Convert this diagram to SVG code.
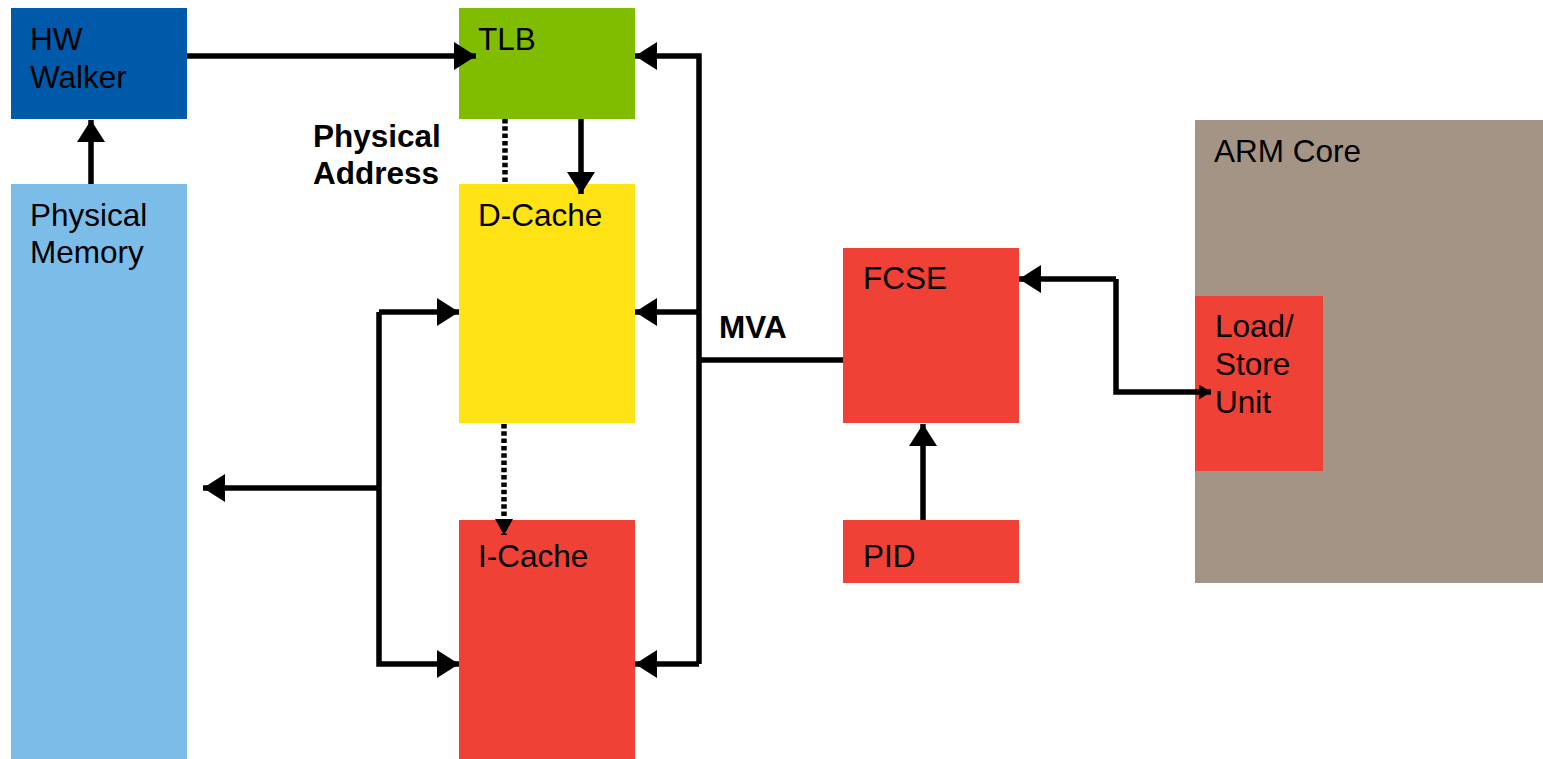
<svg xmlns="http://www.w3.org/2000/svg" width="1543" height="759" viewBox="0 0 1543 759">
<style>
.t{font-family:"Liberation Sans",Arial,sans-serif;font-size:31.5px;fill:#000}
.b{font-weight:bold}
.ln{fill:none;stroke:#000;stroke-width:5.5}
.dot{fill:none;stroke:#000;stroke-width:5.5;stroke-dasharray:4.5 2.8}
</style>
<defs>
<marker id="ah" markerUnits="userSpaceOnUse" markerWidth="24" markerHeight="30" refX="22" refY="14" orient="auto">
<path d="M0,0 L22,14 L0,28 Z" fill="#000"/>
</marker>
<marker id="ad" markerUnits="userSpaceOnUse" markerWidth="18" markerHeight="20" refX="16" refY="9" orient="auto">
<path d="M0,0 L16,9 L0,18 Z" fill="#000"/>
</marker>
<marker id="as" markerUnits="userSpaceOnUse" markerWidth="14" markerHeight="16" refX="12" refY="7.5" orient="auto">
<path d="M0,0 L12,7.5 L0,15 Z" fill="#000"/>
</marker>
</defs>
<rect width="1543" height="759" fill="#fff"/>
<g id="arm-core"><rect x="1195" y="120" width="348" height="463" fill="#a39485"/><text class="t" x="1214" y="162">ARM Core</text></g>
<g id="hw-walker"><rect x="11" y="8" width="176" height="111" fill="#005aa9"/><text class="t" x="30" y="50">HW</text><text class="t" x="30" y="88">Walker</text></g>
<g id="tlb"><rect x="459" y="8" width="176" height="111" fill="#80bc00"/><text class="t" x="478" y="50">TLB</text></g>
<g id="physical-memory"><rect x="11" y="184" width="176" height="575" fill="#7bbde8"/><text class="t" x="30" y="226">Physical</text><text class="t" x="30" y="263">Memory</text></g>
<g id="d-cache"><rect x="459" y="184" width="176" height="239" fill="#ffe314"/><text class="t" x="478" y="226">D-Cache</text></g>
<g id="i-cache"><rect x="459" y="520" width="176" height="239" fill="#ef4136"/><text class="t" x="478" y="567">I-Cache</text></g>
<g id="fcse"><rect x="843" y="248" width="176" height="175" fill="#ef4136"/><text class="t" x="863" y="289">FCSE</text></g>
<g id="pid"><rect x="843" y="520" width="176" height="63" fill="#ef4136"/><text class="t" x="863" y="567">PID</text></g>
<g id="load-store-unit"><rect x="1195" y="296" width="128" height="175" fill="#ef4136"/><text class="t" x="1215" y="337">Load/</text><text class="t" x="1215" y="375">Store</text><text class="t" x="1215" y="413">Unit</text></g>
<g id="labels">
<text class="t b" x="313" y="147">Physical</text><text class="t b" x="313" y="184">Address</text>
<text class="t b" x="719" y="338">MVA</text>
</g>
<g id="connectors">
<path class="ln" d="M187,56 H476" marker-end="url(#ah)"/>
<path class="ln" d="M91,184 V120" marker-end="url(#ah)"/>
<path class="dot" d="M505,119 V184"/>
<path class="ln" d="M581,119 V194" marker-end="url(#ah)"/>
<path class="dot" d="M504,424 V535" marker-end="url(#ad)"/>
<path class="ln" d="M379,312 H459" marker-end="url(#ah)"/>
<path class="ln" d="M379,312 V664 H459" marker-end="url(#ah)"/>
<path class="ln" d="M379,488 H203" marker-end="url(#ah)"/>
<path class="ln" d="M699,664 V56 H635" marker-end="url(#ah)"/>
<path class="ln" d="M699,312 H635" marker-end="url(#ah)"/>
<path class="ln" d="M699,664 H635" marker-end="url(#ah)"/>
<path class="ln" d="M699,360 H843"/>
<path class="ln" d="M923,520 V424" marker-end="url(#ah)"/>
<path class="ln" d="M1116,279 H1019" marker-end="url(#ah)"/>
<path class="ln" d="M1116,279 V392 H1211" marker-end="url(#as)"/>
</g>
</svg>
